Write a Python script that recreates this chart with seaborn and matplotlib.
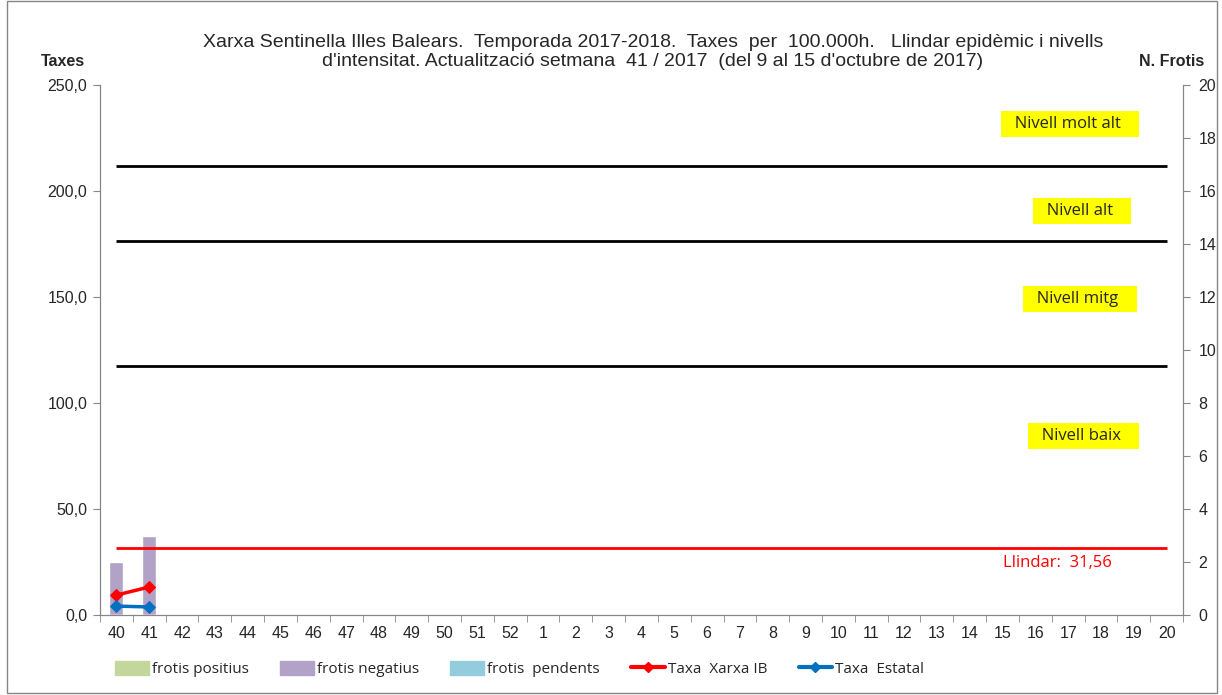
import pandas as pd
import matplotlib.pyplot as plt
import matplotlib.patches as mpatches
import matplotlib.lines as mlines
from matplotlib.ticker import FuncFormatter, MultipleLocator, FixedLocator
import seaborn as sns

# Data
weeks = [str(w) for w in range(40, 53)] + [str(w) for w in range(1, 21)]
frotis_positius = [0, 0]
frotis_negatius = [2, 3]
frotis_pendents = [0, 0]
taxa_xarxa_ib = [9.4, 13.2]
taxa_estatal = [4.2, 3.8]
llindar = 31.56
nivells = [117.5, 176.5, 211.8]
nivell_labels = ["Nivell baix", "Nivell mitg", "Nivell alt", "Nivell molt alt"]
nivell_label_y = [84.4, 149, 190.6, 231.8]
nivell_label_x = [29.48, 29.36, 29.42, 29.06]

title = ("Xarxa Sentinella Illes Balears.  Temporada 2017-2018.  Taxes  per  100.000h.   Llindar epidèmic i nivells\n"
         "d'intensitat. Actualització setmana  41 / 2017  (del 9 al 15 d'octubre de 2017)")

n = len(weeks)
pad = [float('nan')] * (n - len(frotis_negatius))
df = pd.DataFrame({
    "week": weeks,
    "pos": frotis_positius + pad,
    "neg": frotis_negatius + pad,
    "pend": frotis_pendents + pad,
})
df["s1"] = df["pos"]
df["s2"] = df["pos"] + df["neg"]
df["s3"] = df["pos"] + df["neg"] + df["pend"]

lines_df = pd.DataFrame({
    "x": list(range(len(taxa_xarxa_ib))),
    "ib": taxa_xarxa_ib,
    "est": taxa_estatal,
})

sns.set_style("white")
plt.rcParams['font.family'] = ['Liberation Sans', 'DejaVu Sans']

c_pos = "#c3d69b"
c_neg = "#b3a2c7"
c_pend = "#93cddd"
c_ib = "#ff0000"
c_est = "#0070c0"
grey = "#868686"
calibri = ['Open Sans', 'DejaVu Sans']

fig = plt.figure(figsize=(12.22, 6.95), dpi=100)
ax = fig.add_axes([0.0818, 0.1151, 0.8863, 0.7626])
ax2 = ax.twinx()

# Stacked bars on right axis (totals first, smaller stacks on top)
sns.barplot(data=df, x="week", y="s3", color=c_pend, width=0.43, ax=ax2, saturation=1)
sns.barplot(data=df, x="week", y="s2", color=c_neg, width=0.43, ax=ax2, saturation=1)
sns.barplot(data=df, x="week", y="s1", color=c_pos, width=0.43, ax=ax2, saturation=1)
ax2.set_ylim(0, 20)
ax2.set_xlim(-0.5, n - 0.5)
ax2.yaxis.set_major_locator(MultipleLocator(2))
ax2.set_ylabel("")
ax2.set_xlabel("")

# Lines on left axis
ax.set_zorder(ax2.get_zorder() + 1)
ax.patch.set_visible(False)
for y in nivells:
    ax.hlines(y, 0, n - 1, color="black", lw=2)
ax.hlines(llindar, 0, n - 1, color=c_ib, lw=2)
sns.lineplot(data=lines_df, x="x", y="ib", color=c_ib, lw=2.5, marker="D", markersize=6,
             markeredgecolor=c_ib, ax=ax)
sns.lineplot(data=lines_df, x="x", y="est", color=c_est, lw=2.5, marker="D", markersize=6,
             markeredgecolor=c_est, ax=ax)
ax.set_ylim(0, 250)
ax.set_xlim(-0.5, n - 0.5)
ax.yaxis.set_major_locator(MultipleLocator(50))
ax.yaxis.set_major_formatter(FuncFormatter(lambda v, p: f"{v:.1f}".replace(".", ",")))
ax.set_ylabel("")
ax.set_xlabel("")
ax.set_xticks(range(n))
ax.set_xticklabels(weeks)
ax.xaxis.set_minor_locator(FixedLocator([i - 0.5 for i in range(n + 1)]))

for a in (ax, ax2):
    for side in ("left", "right", "bottom"):
        a.spines[side].set_color(grey)
    a.spines["top"].set_visible(False)
ax.tick_params(axis="y", left=True, length=5, color=grey, labelsize=11.5, pad=4)
ax.tick_params(axis="x", which="major", length=0, labelsize=11.5, pad=8)
ax.tick_params(axis="x", which="minor", bottom=True, length=5, color=grey)
ax2.tick_params(axis="y", right=True, length=5, color=grey, labelsize=11.5, pad=6)
ax2.tick_params(axis="x", bottom=False, labelbottom=False)

# Level labels
for lx, ly, lt in zip(nivell_label_x, nivell_label_y, nivell_labels):
    ax.text(lx, ly, "  " + lt + "   ", ha="center", va="center", fontsize=12, family=calibri,
            bbox=dict(boxstyle="square,pad=0.3", fc="#ffff00", ec="none"))
ax.text(28.66, 24.5, "Llindar:  31,56", color=c_ib, ha="center", va="center", fontsize=12,
        family=calibri)

# Title and axis titles
fig.text(0.5344, 0.925, title, ha="center", va="center", fontsize=14, linespacing=1.2)
fig.text(0.0516, 0.912, "Taxes", ha="center", va="center", fontsize=11.5, weight="bold")
fig.text(0.959, 0.912, "N. Frotis", ha="center", va="center", fontsize=11.5, weight="bold")

# Legend
handles = [
    mpatches.Patch(color=c_pos, label="frotis positius"),
    mpatches.Patch(color=c_neg, label="frotis negatius"),
    mpatches.Patch(color=c_pend, label="frotis  pendents"),
    mlines.Line2D([], [], color=c_ib, lw=3, marker="D", markersize=5, label="Taxa  Xarxa IB"),
    mlines.Line2D([], [], color=c_est, lw=3, marker="D", markersize=5, label="Taxa  Estatal"),
]
leg = fig.legend(handles=handles, loc="center left", bbox_to_anchor=(0.0945, 0.0374), ncol=5,
                 frameon=False, handlelength=2.2, handleheight=1.0, handletextpad=0.2,
                 columnspacing=2.05, borderpad=0, borderaxespad=0,
                 prop={'family': calibri, 'size': 11})

# Outer border
fig.patches.append(mpatches.Rectangle((0.006, 0.003), 0.99, 0.995, transform=fig.transFigure,
                                      fill=False, ec=grey, lw=1))

fig.savefig("out.png", dpi=100)
